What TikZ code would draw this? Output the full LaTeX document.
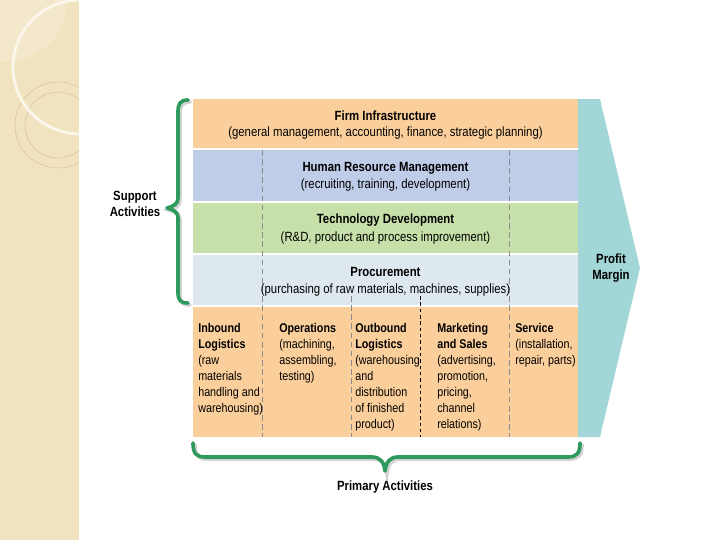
\documentclass[tikz,border=0pt]{standalone}
\usepackage{fontspec}
\setmainfont{Liberation Sans}[FakeStretch=0.85]
\definecolor{peach}{HTML}{FBCF9B}
\definecolor{hrblue}{HTML}{BFCDE9}
\definecolor{techgreen}{HTML}{C7E0A9}
\definecolor{procgray}{HTML}{DDE9EE}
\definecolor{margin}{HTML}{A3D6D6}
\definecolor{braceg}{HTML}{2E9A5D}
\definecolor{strip}{HTML}{F2E3C0}
\definecolor{ringc}{HTML}{D8C49C}

\begin{document}
\begin{tikzpicture}[x=0.025cm, y=-0.025cm,
  title/.style={font=\bfseries\fontsize{9.5}{11.4}\selectfont, anchor=base, inner sep=0pt},
  sub/.style={font=\fontsize{9.5}{11.4}\selectfont, anchor=base, inner sep=0pt},
  col/.style={font=\fontsize{9}{11.4}\selectfont, align=left, anchor=north west, inner sep=0pt},
  lbl/.style={font=\bfseries\fontsize{9.5}{11.4}\selectfont, align=center, inner sep=0pt},
  brace/.style={draw=braceg, line width=2.6pt, line cap=round, line join=round},
  shade/.style={draw=black!35, line width=2.6pt, line cap=round, opacity=0.5}]
\useasboundingbox (0,0) rectangle (720,540);

% left decorative strip
\begin{scope}
\clip (0,0) rectangle (79,540);
\fill[strip] (0,0) rectangle (79,540);
\fill[white, opacity=0.2] (5,0) circle (62);
\draw[ringc, line width=0.4pt] (58,125) circle (43);
\draw[ringc, line width=0.4pt] (58,125) circle (33);
\draw[white!70!strip, line width=2pt] (80,67) circle (67);
\end{scope}

% profit margin arrow
\fill[margin] (578,99) -- (600,99) -- (640,268) -- (600,437) -- (578,437) -- cycle;

% support and primary bands
\fill[peach] (193,99) rectangle (578,148);
\fill[hrblue] (193,150) rectangle (578,201);
\fill[techgreen] (193,203) rectangle (578,253);
\fill[procgray] (193,255) rectangle (578,305);
\fill[peach] (193,307) rectangle (578,437);

% dividers
\draw[black!45, dashed, dash pattern=on 4pt off 2.5pt, line width=0.4pt] (262,150) -- (262,437);
\draw[black!45, dashed, dash pattern=on 4pt off 2.5pt, line width=0.4pt] (509,150) -- (509,437);
\draw[black!45, dashed, dash pattern=on 4pt off 2.5pt, line width=0.4pt] (351,296) -- (351,437);
\draw[black, dashed, dash pattern=on 2.5pt off 2pt, line width=0.7pt] (420,296) -- (420,437);

% band labels
\node[title] (firmT) at (385.5,120) {Firm Infrastructure};
\node[sub] (firmS) at (385.5,136) {(general management, accounting, finance, strategic planning)};
\node[title] (hrmT) at (385.5,171) {Human Resource Management};
\node[sub] (hrmS) at (385.5,188) {(recruiting, training, development)};
\node[title] (techT) at (385.5,223) {Technology Development};
\node[sub] (techS) at (385.5,241) {(R\&D, product and process improvement)};
\node[title] (procT) at (385.5,276) {Procurement};
\node[sub] (procS) at (385.5,293) {(purchasing of raw materials, machines, supplies)};

% primary activities
\node[col] (inbound) at (198,323) {\textbf{Inbound}\\\textbf{Logistics}\\(raw\\materials\\handling and\\warehousing)};
\node[col] (ops) at (279,323) {\textbf{Operations}\\(machining,\\assembling,\\testing)};
\node[col] (outbound) at (355,323) {\textbf{Outbound}\\\textbf{Logistics}\\(warehousing\\and\\distribution\\of finished\\product)};
\node[col] (mkt) at (437,323) {\textbf{Marketing}\\\textbf{and Sales}\\(advertising,\\promotion,\\pricing,\\channel\\relations)};
\node[col] (svc) at (515,323) {\textbf{Service}\\(installation,\\repair, parts)};

% braces
\draw[shade] (190,102) .. controls (182,102) and (180,106) .. (180,114) -- (180,200)
  .. controls (180,206) and (176,208) .. (169,210) .. controls (176,212) and (180,214) .. (180,220)
  -- (180,294) .. controls (180,302) and (182,305) .. (190,305);
\draw[brace] (188,100) .. controls (180,100) and (178,104) .. (178,112) -- (178,198)
  .. controls (178,204) and (174,206) .. (167,208) .. controls (174,210) and (178,212) .. (178,218)
  -- (178,292) .. controls (178,300) and (180,303) .. (188,303);
\draw[shade] (195,445) .. controls (195,455) and (198,459) .. (207,459) -- (374,459)
  .. controls (382,459) and (386,464) .. (387,473) .. controls (388,464) and (392,459) .. (400,459)
  -- (570,459) .. controls (579,459) and (582,455) .. (582,445);
\draw[brace] (193,443) .. controls (193,453) and (196,457) .. (205,457) -- (372,457)
  .. controls (380,457) and (384,462) .. (385,471) .. controls (386,462) and (390,457) .. (398,457)
  -- (568,457) .. controls (577,457) and (580,453) .. (580,443);

% side labels
\node[lbl] (support) at (135,204) {Support\\Activities};
\node[lbl] (profit) at (611,268) {Profit\\Margin};
\node[lbl] (primary) at (385,487) {Primary Activities};
\end{tikzpicture}
\end{document}
